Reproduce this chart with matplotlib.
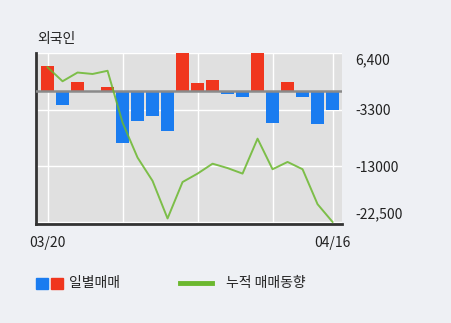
import matplotlib
matplotlib.use("Agg")
import matplotlib.pyplot as plt
from matplotlib.patches import Rectangle
from matplotlib.lines import Line2D
import numpy as np

plt.rcParams['font.family'] = ['Noto Sans CJK KR', 'DejaVu Sans']

title = "외국인"
dates = ["03/20", "04/16"]
daily = [4200, -2500, 1500, 0, 600, -9000, -5200, -4400, -6900, 6600,
         1250, 1900, -600, -1100, 6400, -5600, 1500, -1100, -5700, -3300]
cumulative = [4000, 1600, 3100, 2850, 3400, -5500, -11500, -15500, -21950, -15700,
              -14250, -12550, -13300, -14250, -8250, -13500, -12250, -13500, -19500, -22550]
yticks = [6400, -3300, -13000, -22500]
ytick_labels = ["6,400", "-3300", "-13000", "-22,500"]
legend_labels = ["일별매매", "누적 매매동향"]

RED = "#f0361e"
BLUE = "#1a7cf0"
GREEN = "#6bb82e"
BG = "#eef0f4"
PLOT_BG = "#e0e0e0"

W, H = 451, 323
fig = plt.figure(figsize=(W / 100, H / 100), dpi=100, facecolor=BG)

left, right, top, bottom = 36, 341.7, 53.3, 223.7
ax = fig.add_axes([left / W, 1 - bottom / H, (right - left) / W, (bottom - top) / H])
ax.set_facecolor(PLOT_BG)

x = np.arange(len(daily))
colors = [RED if v > 0 else BLUE for v in daily]
ax.bar(x, daily, width=0.87, color=colors, zorder=3)
ax.axhline(0, color="#8a8a8a", lw=1.8, zorder=4)
ax.plot(x, cumulative, color=GREEN, lw=1.4, alpha=0.85, zorder=5)

ax.set_xlim(-0.77, 19.61)
ax.set_ylim(-22850, 6400)

# grid
for gx in [0, 5, 10, 15, 19]:
    ax.axvline(gx, color="white", lw=1.0, zorder=1)
for gy in yticks:
    ax.axhline(gy, color="white", lw=1.0, zorder=1)

ax.set_xticks([0, 19])
ax.set_xticklabels(dates, fontsize=10, color="#222222")
ax.tick_params(axis="x", length=0, pad=9)

ax.yaxis.tick_right()
ax.set_yticks(yticks)
ax.set_yticklabels(ytick_labels, fontsize=10, color="#222222")
ax.tick_params(axis="y", length=0, pad=10)
lbls = ax.get_yticklabels()
lbls[0].set_va("top")
lbls[-1].set_va("bottom")

for s in ["top", "right"]:
    ax.spines[s].set_visible(False)
ax.spines["left"].set_color("#333333")
ax.spines["left"].set_linewidth(2)
ax.spines["bottom"].set_color("#333333")
ax.spines["bottom"].set_linewidth(2)

fig.text(37 / W, 1 - 38.5 / H, title, fontsize=10, va="center", ha="left", color="#222222")

# legend
def fx(px):
    return px / W

def fy(py):
    return 1 - py / H

fig.add_artist(Rectangle((fx(36), fy(289)), 11.7 / W, 11.3 / H, color=BLUE, transform=fig.transFigure))
fig.add_artist(Rectangle((fx(51), fy(289)), 11.7 / W, 11.3 / H, color=RED, transform=fig.transFigure))
fig.text(fx(69), fy(283.3), legend_labels[0], fontsize=10, va="center", ha="left", color="#222222")
fig.add_artist(Line2D([fx(180), fx(211.7)], [fy(283), fy(283)], color=GREEN, lw=3.5, transform=fig.transFigure))
fig.text(fx(226), fy(283.3), legend_labels[1], fontsize=10, va="center", ha="left", color="#222222")

fig.savefig("out.png", dpi=100, facecolor=BG)
